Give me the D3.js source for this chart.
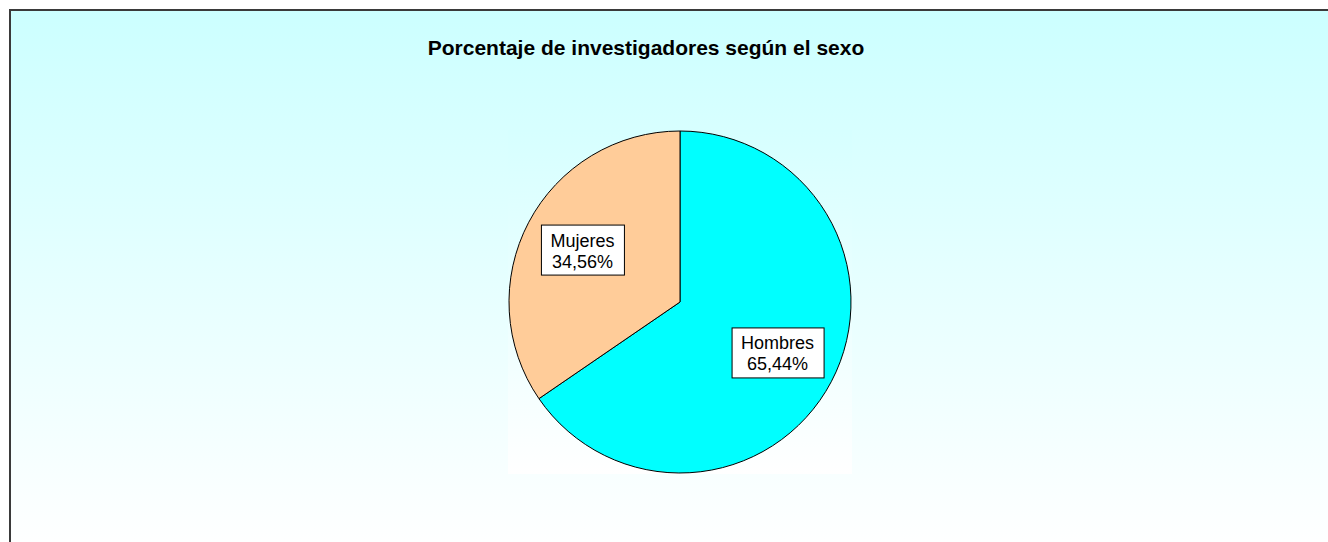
<!DOCTYPE html>
<html>
<head>
<meta charset="utf-8">
<script src="https://cdn.jsdelivr.net/npm/d3@7"></script>
<style>
  html, body { margin: 0; padding: 0; background: #fff; overflow: hidden; }
  svg { display: block; font-family: Arial, "Liberation Sans", sans-serif; }
</style>
</head>
<body>
<script>
const title = 'Porcentaje de investigadores según el sexo';
const categories = ['Hombres', 'Mujeres'];
const values = [65.44, 34.56];
const colors = ['#00ffff', '#ffcc99'];

const width = 1328;
const height = 542;

const svg = d3.select('body').append('svg').
    attr('width', width).
    attr('height', height);

const defs = svg.append('defs');

const bgGrad = defs.append('linearGradient').
    attr('id', 'bg').
    attr('gradientUnits', 'userSpaceOnUse').
    attr('x1', 0).attr('y1', 10).attr('x2', 0).attr('y2', 550);
bgGrad.append('stop').attr('offset', '0%').attr('stop-color', '#ccffff');
bgGrad.append('stop').attr('offset', '100%').attr('stop-color', '#ffffff');

const plotGrad = defs.append('linearGradient').
    attr('id', 'plotbg').
    attr('x1', 0).attr('y1', 0).attr('x2', 0).attr('y2', 1);
plotGrad.append('stop').attr('offset', '0%').attr('stop-color', '#d6ffff');
plotGrad.append('stop').attr('offset', '100%').attr('stop-color', '#ffffff');

// chart area (extends past the right and bottom edges)
svg.append('rect').
    attr('x', 10).attr('y', 10).
    attr('width', 1400).attr('height', 590).
    attr('fill', 'url(#bg)').
    attr('stroke', '#3a3a3a').
    attr('stroke-width', 2);

svg.append('text').
    attr('x', 646).attr('y', 55).
    attr('text-anchor', 'middle').
    attr('font-size', 21).
    attr('font-weight', 'bold').
    attr('fill', '#000').
    text(title);

const cx = 680;
const cy = 302;
const r = 171;

// plot area
svg.append('rect').
    attr('x', cx - r - 1).attr('y', cy - r - 1).
    attr('width', 2 * r + 2).attr('height', 2 * r + 2).
    attr('fill', 'url(#plotbg)');

const pie = d3.pie().sort(null).value(d => d);
const arcs = pie(values);

const arc = d3.arc().innerRadius(0).outerRadius(r);
const labelArc = d3.arc().innerRadius(r * 0.645).outerRadius(r * 0.645);

const g = svg.append('g').attr('transform', `translate(${cx}, ${cy})`);

g.selectAll('path.slice').
    data(arcs).
    enter().append('path').
    attr('class', 'slice').
    attr('d', arc).
    attr('fill', (d, i) => colors[i]).
    attr('stroke', '#000').
    attr('stroke-width', 1);

const fmt = v => d3.format('.2f')(v).replace('.', ',') + '%';

const labels = g.selectAll('g.label').
    data(arcs).
    enter().append('g').
    attr('class', 'label').
    attr('transform', d => `translate(${labelArc.centroid(d)})`);

labels.each(function (d, i) {
    const el = d3.select(this);
    const box = el.append('rect');
    const t = el.append('text').
        attr('text-anchor', 'middle').
        attr('font-size', 18).
        attr('fill', '#000');
    t.append('tspan').attr('x', 0).attr('y', -4).text(categories[i]);
    t.append('tspan').attr('x', 0).attr('y', 17).text(fmt(d.data));
    const bb = t.node().getBBox();
    const w = Math.round(bb.width + 19);
    const h = 50;
    box.
        attr('x', -w / 2 + 0.5).attr('y', -h / 2 - 0.5).
        attr('width', w).attr('height', h).
        attr('fill', '#fff').
        attr('stroke', '#000').
        attr('stroke-width', 1);
});
</script>
</body>
</html>
